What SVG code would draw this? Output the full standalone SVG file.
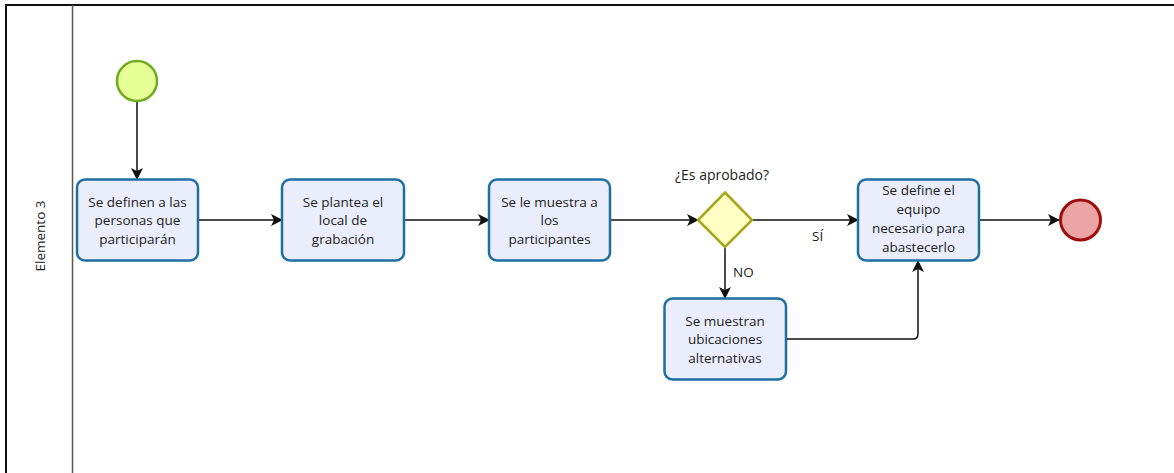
<svg xmlns="http://www.w3.org/2000/svg" width="1174" height="473" viewBox="0 0 1174 473">
<style>
.task{fill:#eaeefc;stroke:#1e6fa0;stroke-width:2.5}
.t{font-family:"Open Sans","Liberation Sans",sans-serif;font-size:13.5px;fill:#222;text-anchor:middle}
.lbl{font-family:"Open Sans","Liberation Sans",sans-serif;font-size:13.5px;fill:#222}
.c{fill:none;stroke:#111;stroke-width:1.5}
</style>
<defs>
<marker id="arr" viewBox="0 0 12 12" refX="11" refY="6" markerWidth="12" markerHeight="12" markerUnits="userSpaceOnUse" orient="auto">
<path d="M0,0 L12,6 L0,12 L3,6 Z" fill="#111"/>
</marker>
</defs>
<rect width="1174" height="473" fill="#fff"/>
<g id="pool">
<path d="M6,473 V5 H1174" fill="none" stroke="#111" stroke-width="2"/>
<line x1="72.5" y1="5" x2="72.5" y2="473" stroke="#555" stroke-width="1.5"/>
<text class="lbl" transform="translate(45,236) rotate(-90)" text-anchor="middle">Elemento 3</text>
</g>
<g id="connectors">
<path class="c" d="M137,102 V179" marker-end="url(#arr)"/>
<path class="c" d="M198,220 H282" marker-end="url(#arr)"/>
<path class="c" d="M404,220 H489" marker-end="url(#arr)"/>
<path class="c" d="M610,220 H698" marker-end="url(#arr)"/>
<path class="c" d="M752,220 H858" marker-end="url(#arr)"/>
<path class="c" d="M725,247 V298" marker-end="url(#arr)"/>
<path class="c" d="M786,339 H913 Q918,339 918,334 V261" marker-end="url(#arr)"/>
<path class="c" d="M979,220 H1059" marker-end="url(#arr)"/>
<text class="lbl" x="733" y="277">NO</text>
<text class="lbl" x="812" y="241">SÍ</text>
</g>
<g id="start">
<circle cx="137" cy="81" r="20" fill="#e6ff97" stroke="#6dac1c" stroke-width="2.5"/>
</g>
<g id="task1">
<rect class="task" x="77" y="179.5" width="121" height="81" rx="8"/>
<text class="t" x="137.5" y="206.5">Se definen a las</text>
<text class="t" x="137.5" y="225">personas que</text>
<text class="t" x="137.5" y="243.5">participarán</text>
</g>
<g id="task2">
<rect class="task" x="282" y="179.5" width="122" height="81" rx="8"/>
<text class="t" x="343" y="206.5">Se plantea el</text>
<text class="t" x="343" y="225">local de</text>
<text class="t" x="343" y="243.5">grabación</text>
</g>
<g id="task3">
<rect class="task" x="489" y="179.5" width="121" height="81" rx="8"/>
<text class="t" x="549.5" y="206.5">Se le muestra a</text>
<text class="t" x="549.5" y="225">los</text>
<text class="t" x="549.5" y="243.5">participantes</text>
</g>
<g id="gateway">
<path d="M725,192.5 L752,220 L725,247 L698,220 Z" fill="#ffffc4" stroke="#a6a61c" stroke-width="2.5"/>
<text class="t" x="722" y="180" style="font-size:14px">¿Es aprobado?</text>
</g>
<g id="task4">
<rect class="task" x="858" y="179.5" width="121" height="81" rx="8"/>
<text class="t" x="918.5" y="195">Se define el</text>
<text class="t" x="918.5" y="214">equipo</text>
<text class="t" x="918.5" y="232.5">necesario para</text>
<text class="t" x="918.5" y="251.5">abastecerlo</text>
</g>
<g id="task5">
<rect class="task" x="664.5" y="298.5" width="121.5" height="81" rx="8"/>
<text class="t" x="725" y="325.5">Se muestran</text>
<text class="t" x="725" y="344">ubicaciones</text>
<text class="t" x="725" y="362.5">alternativas</text>
</g>
<g id="end">
<circle cx="1080.5" cy="220" r="20" fill="#eba5a5" stroke="#a00d0d" stroke-width="3"/>
</g>
</svg>
